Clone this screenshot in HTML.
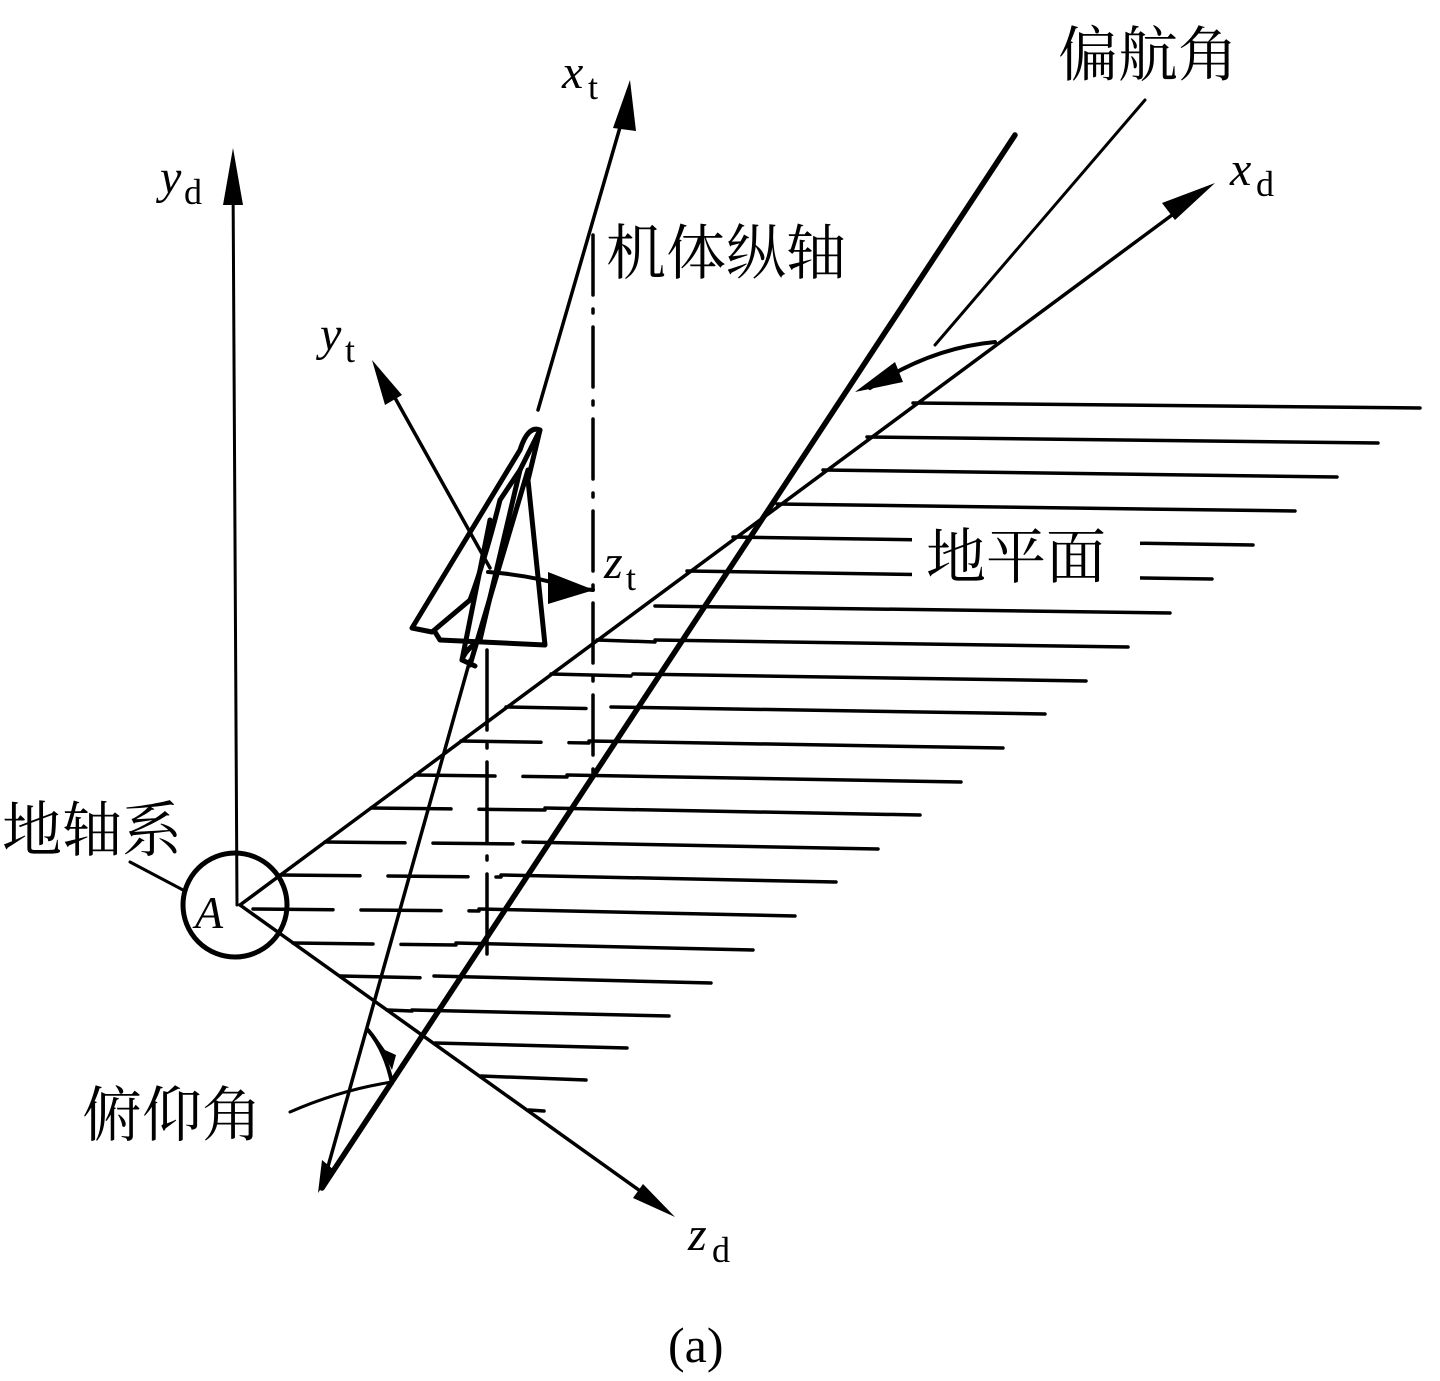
<!DOCTYPE html>
<html><head><meta charset="utf-8"><style>
body{margin:0;background:#fff}
svg{display:block}
text{font-family:"Liberation Serif","Noto Serif CJK SC",serif;fill:#000}
.cj{font-family:"Liberation Serif","Noto Serif CJK SC",serif}
</style></head><body>
<svg width="1440" height="1381" viewBox="0 0 1440 1381" xmlns="http://www.w3.org/2000/svg">
<g stroke="#000" fill="none" stroke-linecap="round">
<g stroke-width="3.5" stroke-dasharray="80 28">
<line x1="597" y1="640" x2="655" y2="642"/>
<line x1="551" y1="674" x2="633" y2="676"/>
<line x1="506" y1="707" x2="611" y2="709"/>
<line x1="461" y1="741" x2="589" y2="743"/>
<line x1="415" y1="775" x2="567" y2="777"/>
<line x1="371" y1="808" x2="545" y2="810"/>
<line x1="325" y1="842" x2="523" y2="844"/>
<line x1="280" y1="875" x2="501" y2="877"/>
<line x1="253" y1="909" x2="479" y2="911"/>
<line x1="293" y1="943" x2="456" y2="945"/>
<line x1="340" y1="976" x2="434" y2="978"/>
<line x1="387" y1="1010" x2="412" y2="1011"/>
</g>
<g stroke-width="3.5">
<line x1="913" y1="403" x2="1420" y2="408"/>
<line x1="867" y1="437" x2="1378" y2="443"/>
<line x1="823" y1="470" x2="1337" y2="477"/>
<line x1="777" y1="504" x2="1295" y2="511"/>
<line x1="733" y1="537" x2="1253" y2="545"/>
<line x1="687" y1="571" x2="1212" y2="579"/>
<line x1="655" y1="606" x2="1170" y2="613"/>
<line x1="655" y1="640" x2="1128" y2="647"/>
<line x1="633" y1="674" x2="1086" y2="681"/>
<line x1="611" y1="707" x2="1045" y2="714"/>
<line x1="589" y1="741" x2="1003" y2="748"/>
<line x1="567" y1="775" x2="961" y2="782"/>
<line x1="545" y1="808" x2="920" y2="815"/>
<line x1="523" y1="842" x2="878" y2="849"/>
<line x1="501" y1="875" x2="836" y2="882"/>
<line x1="479" y1="909" x2="795" y2="916"/>
<line x1="456" y1="943" x2="753" y2="950"/>
<line x1="434" y1="976" x2="711" y2="983"/>
<line x1="412" y1="1010" x2="669" y2="1016"/>
<line x1="435" y1="1043" x2="627" y2="1048"/>
<line x1="481" y1="1076" x2="586" y2="1080"/>
<line x1="529" y1="1110" x2="544" y2="1111"/>
</g>
<line x1="237" y1="905" x2="233" y2="175" stroke-width="3"/>
<line x1="240" y1="905" x2="1195" y2="198" stroke-width="3.5"/>
<line x1="240" y1="905" x2="650" y2="1198" stroke-width="3.5"/>
<line x1="1145" y1="100" x2="935" y2="345" stroke-width="3"/>
<line x1="1015" y1="135" x2="322" y2="1188" stroke-width="5.5"/>
<line x1="625" y1="110" x2="538" y2="410" stroke-width="3.5"/>
<line x1="470" y1="660" x2="322" y2="1188" stroke-width="3.5"/>
<line x1="593" y1="235" x2="593" y2="780" stroke-width="3.5" stroke-dasharray="60 14 4 14"/>
<line x1="487" y1="650" x2="487" y2="955" stroke-width="3.5" stroke-dasharray="80 14 4 14"/>
<line x1="490" y1="568" x2="385" y2="380" stroke-width="3.5"/>
<path d="M488 572 Q530 575 570 587" stroke-width="4"/>
<line x1="570" y1="588" x2="593" y2="590" stroke-width="4"/>
<circle cx="235" cy="905" r="52" stroke-width="5"/>
<line x1="130" y1="862" x2="183" y2="890" stroke-width="3"/>
<path d="M290 1112 Q340 1090 392 1082" stroke-width="3"/>
<path d="M368 1030 Q385 1050 392 1083" stroke-width="4"/>
<path d="M995 342 Q930 348 870 388" stroke-width="4"/>
<g stroke-width="5" stroke-linejoin="round">
<path d="M540 430 Q528 425 520 450 L412 628 L432 632 L470 600 Q485 560 500 500 L520 470 Z"/>
<path d="M540 430 L528 480 L545 645 L440 640 L435 632"/>
<path d="M528 470 L470 665"/>
<path d="M520 470 L480 640 Q465 650 462 660 L475 666"/>
<path d="M490 520 L462 660"/>
</g>
</g>
<rect x="912" y="518" width="228" height="72" fill="#fff"/>
<g fill="#000">
<polygon points="233,148 223,205 243,205"/>
<polygon points="630,80 613,128 636,131"/>
<polygon points="1215,183 1162,203 1175,220"/>
<polygon points="675,1217 633,1198 643,1184"/>
<polygon points="372,360 385,405 402,395"/>
<polygon points="594,590 548,572 548,604"/>
<polygon points="855,392 895,362 903,382"/>
<polygon points="318,1193 322,1160 334,1170"/>
<polygon points="385,1050 373,1033 392,1070 396,1055"/>
</g>
<text x="160" y="193" font-size="48" font-style="italic">y</text><text x="184" y="204" font-size="36">d</text>
<text x="562" y="88" font-size="48" font-style="italic">x</text><text x="588" y="99" font-size="36">t</text>
<text x="1230" y="185" font-size="48" font-style="italic">x</text><text x="1256" y="196" font-size="36">d</text>
<text x="320" y="350" font-size="48" font-style="italic">y</text><text x="345" y="362" font-size="36">t</text>
<text x="604" y="578" font-size="48" font-style="italic">z</text><text x="626" y="590" font-size="36">t</text>
<text x="688" y="1250" font-size="48" font-style="italic">z</text><text x="712" y="1262" font-size="36">d</text>
<text x="195" y="928" font-size="46" font-style="italic">A</text>
<text x="668" y="1362" font-size="50">(a)</text>
<text class="cj" x="1058" y="76" font-size="60">偏航角</text>
<text class="cj" x="606" y="274" font-size="60">机体纵轴</text>
<text class="cj" x="926" y="578" font-size="60">地平面</text>
<text class="cj" x="2" y="851" font-size="60">地轴系</text>
<text class="cj" x="82" y="1136" font-size="60">俯仰角</text>
</svg>
</body></html>
